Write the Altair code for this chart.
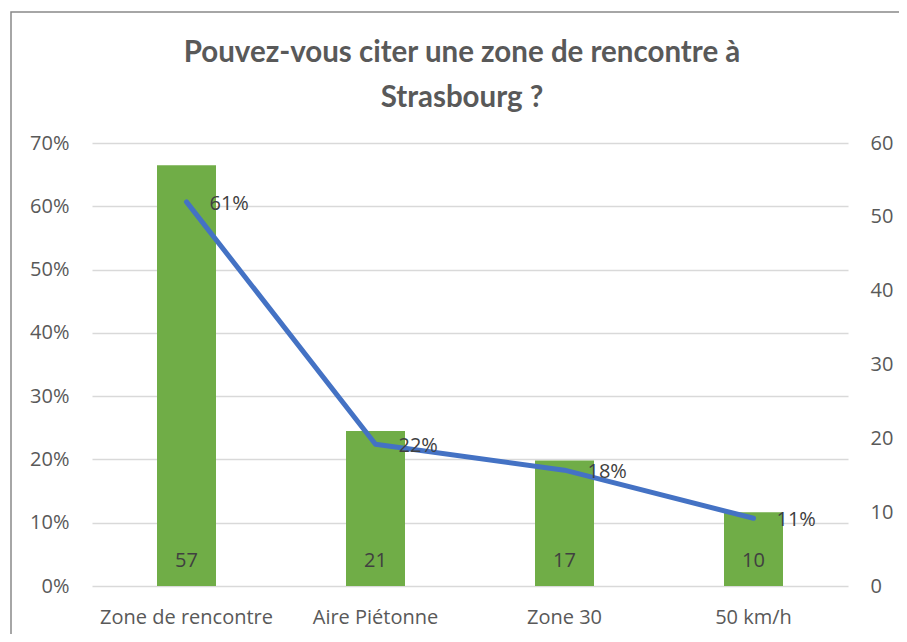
import altair as alt
import pandas as pd

categories = ["Zone de rencontre", "Aire Piétonne", "Zone 30", "50 km/h"]
counts = [57, 21, 17, 10]
shares = [0.607, 0.224, 0.183, 0.107]

df = pd.DataFrame({"cat": categories, "count": counts, "share": shares})

W, H = 756, 443
FONT = "Open Sans"
FS = 20

x = alt.X("cat:N", sort=categories, title=None,
          scale=alt.Scale(paddingInner=0, paddingOuter=0),
          axis=alt.Axis(labelAngle=0, ticks=False, domain=False, labelPadding=21,
                        labelFontSize=FS, labelColor="#595959", labelFont=FONT))

bars = alt.Chart().mark_bar(size=59, color="#70ad47").encode(
    x=x,
    y=alt.Y("count:Q", title=None,
            scale=alt.Scale(domain=[0, 60], nice=False),
            axis=alt.Axis(orient="right", values=[0, 10, 20, 30, 40, 50, 60], grid=False,
                          ticks=False, domain=False, labelPadding=22, labelFontSize=FS,
                          labelColor="#595959", labelFont=FONT)),
)
bar_text = alt.Chart().mark_text(dy=-25, fontSize=FS, color="#404040", font=FONT,
                                 baseline="middle").encode(
    x=alt.X("cat:N", sort=categories),
    y=alt.datum(0),
    text=alt.Text("count:Q"),
)
bar_layer = alt.layer(bars, bar_text)

line = alt.Chart().mark_line(color="#4472c4", strokeWidth=5, strokeCap="round",
                             strokeJoin="round").encode(
    x=alt.X("cat:N", sort=categories),
    y=alt.Y("share:Q", title=None,
            scale=alt.Scale(domain=[0, 0.7], nice=False),
            axis=alt.Axis(orient="left", format=".0%", values=[0, .1, .2, .3, .4, .5, .6, .7],
                          grid=True, gridColor="#d9d9d9", gridWidth=1.5, ticks=False,
                          domain=False, labelPadding=23, labelFontSize=FS,
                          labelColor="#595959", labelFont=FONT)),
)
line_text = alt.Chart().mark_text(dx=23, dy=2, align="left", baseline="middle", fontSize=FS,
                                  color="#404040", font=FONT).encode(
    x=alt.X("cat:N", sort=categories),
    y=alt.Y("share:Q"),
    text=alt.Text("share:Q", format=".0%"),
)
line_layer = alt.layer(line, line_text)

border = alt.Chart(alt.Data(values=[{}])).mark_rect(
    fill=None, stroke="#898989", strokeWidth=1.5, clip=False
).encode(
    x=alt.value(-81), x2=alt.value(W + 200),
    y=alt.value(-131), y2=alt.value(H + 200),
)

chart = alt.layer(bar_layer, line_layer, border, data=df).resolve_scale(
    y="independent"
).properties(
    width=W, height=H,
    padding={"left": 84, "top": 135, "right": 51, "bottom": 48},
    autosize=alt.AutoSizeParams(type="none"),
    title=alt.TitleParams(
        text=["Pouvez-vous citer une zone de rencontre à", "Strasbourg ?"],
        font="Lato", fontSize=29.5, fontWeight="bold", color="#595959",
        lineHeight=45, anchor="middle", dx=-8, offset=0, dy=102,
    ),
).configure_view(stroke=None)

chart.save("out.html", embed_options={"renderer": "svg", "actions": False})
